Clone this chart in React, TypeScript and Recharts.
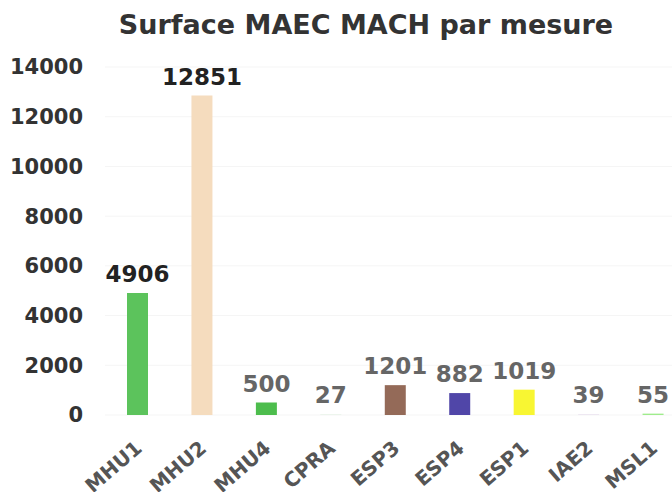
import React from "react"
import { Bar, BarChart, CartesianGrid, Cell, LabelList, XAxis, YAxis } from "recharts"

const mesures = ["MHU1", "MHU2", "MHU4", "CPRA", "ESP3", "ESP4", "ESP1", "IAE2", "MSL1"]
const surfaces = [4906, 12851, 500, 27, 1201, 882, 1019, 39, 55]
const yTicks = [0, 2000, 4000, 6000, 8000, 10000, 12000, 14000]

const barColors = ["#5cc35c", "#f5dcbe", "#4dbd4d", "#e6f2e6", "#946a58", "#5046a8", "#f8f632", "#eee8f2", "#9fec8c"]
const labelColors = ["#222", "#222", "#666", "#666", "#666", "#666", "#666", "#666", "#666"]

const data = mesures.map((m, i) => ({ name: m, value: surfaces[i] }))

const font = "'DejaVu Sans', Verdana, sans-serif"

function XTick(props: any) {
  const { x, y, payload } = props
  return (
    <g transform={`translate(${x + 6},${y + 33})`}>
      <text
        x={0}
        y={0}
        transform="rotate(-41)"
        textAnchor="end"
        fill="#555"
        fontSize={20}
        fontWeight="bold"
        fontFamily={font}
      >
        {payload.value}
      </text>
    </g>
  )
}

function ValueLabel(props: any) {
  const { x, y, width, value, index } = props
  return (
    <text
      x={x + width / 2}
      y={y - 11}
      textAnchor="middle"
      fill={labelColors[index]}
      fontSize={23}
      fontWeight="bold"
      fontFamily={font}
    >
      {value}
    </text>
  )
}

export default function App() {
  return (
    <div style={{ position: "fixed", left: 0, top: 0, width: 672, height: 492, overflow: "hidden", background: "#fff" }}>
      <div
        style={{
          position: "absolute",
          left: 0,
          top: 9,
          width: 732,
          textAlign: "center",
          fontFamily: font,
          fontWeight: "bold",
          fontSize: 27,
          color: "#333",
        }}
      >
        Surface MAEC MACH par mesure
      </div>
      <BarChart
        width={700}
        height={492}
        data={data}
        margin={{ top: 67, right: 15, bottom: 0, left: 0 }}
      >
        <CartesianGrid vertical={false} stroke="#f5f5f5" />
        <XAxis
          dataKey="name"
          axisLine={false}
          tickLine={false}
          tickSize={0}
          height={77}
          interval={0}
          tick={<XTick />}
        />
        <YAxis
          width={105}
          domain={[0, 14000]}
          ticks={yTicks}
          axisLine={false}
          tickLine={false}
          tickSize={0}
          tickMargin={22}
          tick={{ fill: "#333", fontSize: 21, fontWeight: "bold", fontFamily: font }}
        />
        <Bar dataKey="value" barSize={21} isAnimationActive={false}>
          {data.map((d, i) => (
            <Cell key={d.name} fill={barColors[i]} />
          ))}
          <LabelList dataKey="value" content={<ValueLabel />} />
        </Bar>
      </BarChart>
    </div>
  )
}
